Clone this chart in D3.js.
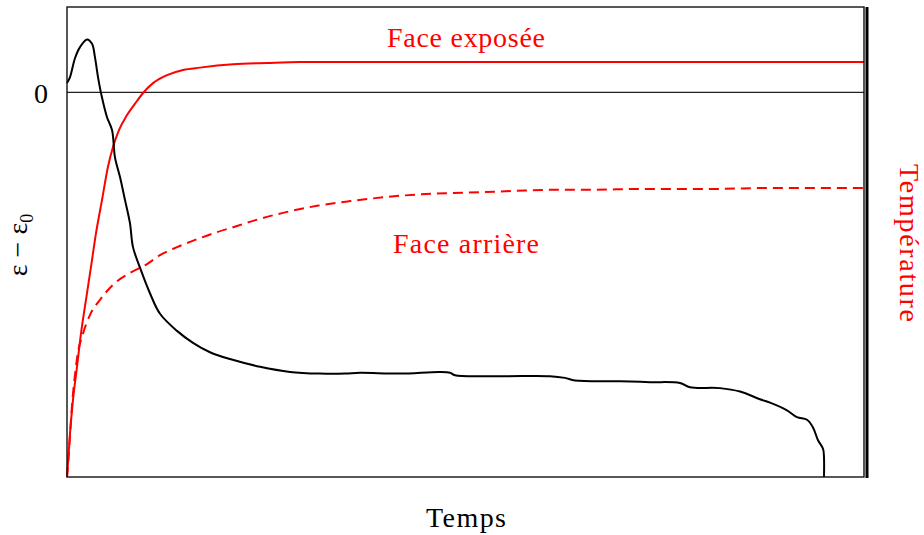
<!DOCTYPE html>
<html>
<head>
<meta charset="utf-8">
<script src="https://cdn.jsdelivr.net/npm/d3@7"></script>
<style>
  html, body { margin: 0; padding: 0; background: #fff; }
  svg { display: block; }
  text { font-family: "Liberation Serif", "DejaVu Serif", serif; }
</style>
</head>
<body>
<svg id="chart" width="924" height="535"></svg>
<script>
// ---- data (arbitrary units) ----
const strainTime = [0, 0.38, 1.0, 1.63, 2.51, 3.14, 3.51, 3.89, 4.39, 5.02, 5.65, 6.02, 6.65, 7.28, 7.90, 8.28, 9.16, 10.41, 11.67, 13.80, 15.81, 17.94, 20.45, 24.22, 27.98, 31.74, 34.88, 36.76, 41.78, 46.80, 48.06, 48.68, 54.33, 60.60, 62.48, 63.74, 69.39, 73.16, 76.91, 78.17, 81.93, 84.44, 86.95, 88.21, 90.34, 91.59, 92.85, 93.60, 94.23, 94.86, 94.98, 94.98];
const strainValues = [0.11, 0.18, 0.40, 0.53, 0.62, 0.57, 0.41, 0.18, -0.06, -0.29, -0.44, -0.76, -0.99, -1.26, -1.53, -1.81, -2.05, -2.35, -2.59, -2.79, -2.93, -3.04, -3.12, -3.21, -3.27, -3.29, -3.29, -3.28, -3.29, -3.27, -3.28, -3.31, -3.32, -3.32, -3.34, -3.37, -3.38, -3.39, -3.40, -3.45, -3.46, -3.50, -3.59, -3.63, -3.72, -3.80, -3.83, -3.92, -4.07, -4.17, -4.27, -4.50];

const exposedTime = [0, 0.38, 0.75, 1.25, 1.76, 2.38, 3.01, 3.64, 4.39, 5.14, 5.77, 6.52, 7.53, 8.78, 9.54, 10.79, 12.55, 14.55, 16.69, 20.83, 25.09, 29.23, 100];
const exposedTemp = [0, 94, 164, 234, 306, 377, 447, 519, 589, 660, 702, 738, 770, 800, 817, 838, 855, 866, 871, 878, 881, 883, 883];

const rearTime = [0, 0.13, 0.38, 0.63, 1.00, 1.38, 1.88, 2.89, 4.14, 5.77, 7.90, 10.04, 11.67, 13.80, 16.31, 18.82, 21.33, 23.34, 27.10, 31.37, 35.51, 39.65, 43.91, 48.06, 52.20, 56.46, 60.60, 64.74, 73.15, 81.56, 87.83, 100];
const rearTemp = [0, 26, 89, 153, 217, 266, 298, 345, 377, 409, 434, 453, 472, 489, 506, 521, 534, 545, 562, 577, 587, 595, 601, 604, 606, 609, 611, 611, 613, 613, 615, 615];

const strainTicks = [0];
const strainTickLabels = ["0"];
const curveNames = ["Face exposée", "Face arrière"];
const xTitle = "Temps";
const yRightTitle = "Température";

// ---- layout ----
const svg = d3.select("#chart");
const L = 67, R = 864, T = 7, B = 477;

const x = d3.scaleLinear().domain([0, 100]).range([L, R]);
const yS = d3.scaleLinear().domain([-4.5, 1.0]).range([B, T]);
const yT = d3.scaleLinear().domain([0, 1000]).range([B, T]);

// zero line
svg.append("line")
  .attr("x1", L).attr("x2", R)
  .attr("y1", yS(0)).attr("y2", yS(0))
  .attr("stroke", "#222").attr("stroke-width", 1.3);

// left axis tick label
const yAxis = d3.axisLeft(yS).tickValues(strainTicks)
  .tickFormat((d, i) => strainTickLabels[i]).tickSize(0).tickPadding(19);
const ga = svg.append("g").attr("transform", `translate(${L},0)`).call(yAxis);
ga.select(".domain").remove();
ga.selectAll("text").attr("font-size", 28).attr("fill", "#000")
  .attr("font-family", "Liberation Serif, serif").attr("dy", "0.36em");

// curves
const lineExposed = d3.line().x((d, i) => x(exposedTime[i])).y(d => yT(d)).curve(d3.curveMonotoneX);
const lineRear = d3.line().x((d, i) => x(rearTime[i])).y(d => yT(d)).curve(d3.curveMonotoneX);
const lineStrain = d3.line().x((d, i) => x(strainTime[i])).y(d => yS(d)).curve(d3.curveCatmullRom.alpha(0.5));

svg.append("path").datum(rearTemp).attr("d", lineRear)
  .attr("fill", "none").attr("stroke", "#ff0000").attr("stroke-width", 2)
  .attr("stroke-dasharray", "10,6");
svg.append("path").datum(exposedTemp).attr("d", lineExposed)
  .attr("fill", "none").attr("stroke", "#ff0000").attr("stroke-width", 2);
svg.append("path").datum(strainValues).attr("d", lineStrain)
  .attr("fill", "none").attr("stroke", "#000").attr("stroke-width", 2)
  .attr("stroke-linejoin", "round");

// frame
svg.append("rect").attr("x", L).attr("y", T).attr("width", R - L).attr("height", B - T)
  .attr("fill", "none").attr("stroke", "#111").attr("stroke-width", 1.4);
svg.append("line").attr("x1", R + 3).attr("x2", R + 3).attr("y1", T).attr("y2", B + 1)
  .attr("stroke", "#000").attr("stroke-width", 3);

// labels
function label(tx, ty, str, color, len, rot) {
  const t = svg.append("text")
    .attr("transform", `translate(${tx},${ty})` + (rot ? ` rotate(${rot})` : ""))
    .attr("text-anchor", "middle").attr("font-size", 28).attr("fill", color)
    .attr("textLength", len).attr("lengthAdjust", "spacing")
    .text(str);
  return t;
}
label(466, 47, curveNames[0], "#ff0000", 158);
label(466, 253, curveNames[1], "#ff0000", 146);
label(466, 527, xTitle, "#000", 80);
label(900, 243, yRightTitle, "#ff0000", 158, 90);

// left title: ε − ε0 (rotated counter-clockwise)
const lt = svg.append("text").attr("transform", "translate(27,245) rotate(-90)")
  .attr("text-anchor", "middle").attr("font-size", 28).attr("fill", "#000");
lt.append("tspan").text("ε − ε");
lt.append("tspan").attr("font-size", 18).attr("dy", 6).text("0");
</script>
</body>
</html>
